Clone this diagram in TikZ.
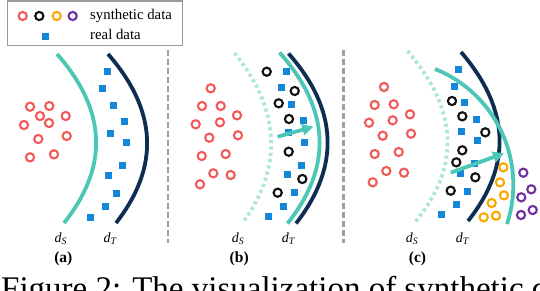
\documentclass[tikz,border=0pt]{standalone}
\usepackage{fontspec}
\setmainfont{Liberation Serif}
\usetikzlibrary{arrows.meta}
\definecolor{synred}{HTML}{F25A5A}
\definecolor{synblack}{HTML}{111111}
\definecolor{synorange}{HTML}{F9A800}
\definecolor{synpurple}{HTML}{7030A0}
\definecolor{realblue}{HTML}{1487D9}
\definecolor{dsteal}{HTML}{4CC6B6}
\definecolor{dsfaint}{HTML}{AEE6DF}
\definecolor{dtnavy}{HTML}{0F2D52}
\tikzset{
  syn/.style={circle,draw=#1,line width=2.1pt,minimum size=8.2pt,inner sep=0pt},
  real/.style={rectangle,fill=realblue,minimum size=7pt,inner sep=0pt},
  dsline/.style={line width=3.8pt,dsteal},
  dsfade/.style={line width=3.8pt,dsfaint,dash pattern=on 3.2pt off 3.2pt},
  dtline/.style={line width=3.8pt,dtnavy},
  moveline/.style={-{Triangle[length=11pt,width=11pt]},line width=3.8pt,dsteal},
  sepline/.style={gray!75,line width=2.4pt,dash pattern=on 6pt off 3pt},
  lbl/.style={font=\fontsize{14.8}{17}\selectfont,anchor=base west,inner sep=0pt},
  dlbl/.style={font=\fontsize{14}{16}\selectfont,anchor=base west,inner sep=0pt},
  panel/.style={font=\fontsize{15.5}{18}\selectfont\bfseries,anchor=base,inner sep=0pt},
}
\newcommand{\dname}[1]{\textit{d}\textsubscript{\textit{#1}}}

\begin{document}
\begin{tikzpicture}[x=1pt,y=-1pt]
  \useasboundingbox (0,0) rectangle (540,290);
  \clip (0,0) rectangle (540,290);
  % legend
  \draw[gray!80,line width=1.1pt] (7.5,1) rectangle (182.5,45.5);
  \node[syn=synred]    (legred)    at (22.7,16) {};
  \node[syn=synblack]  (legblack)  at (39.3,16) {};
  \node[syn=synorange] (legorange) at (56.7,16) {};
  \node[syn=synpurple] (legpurple) at (72.7,16) {};
  \node[real] (legreal) at (45.7,36.7) {};
  \node[lbl] (legsyn) at (90,19) {synthetic data};
  \node[lbl] (legrealtxt) at (90,39) {real data};

  % separators
  \draw[sepline] (167.7,50) -- (167.7,243);
  \draw[sepline] (343.3,50) -- (343.3,243);

  % (a)
  \draw[dsline] (57,54) .. controls (106.7,110.3) and (109,166.7) .. (64,223);
  \draw[dtline] (108,54) .. controls (157.3,110.3) and (160,166.7) .. (116,223);
  \foreach \px/\py [count=\i] in {30/106.7,49.3/106,40/116,65.7/116,24/125,
      49/123,38.3/139,66.7/136,30/157.3,54/154.3}
    \node[syn=synred] (ared\i) at (\px,\py) {};
  \foreach \px/\py [count=\i] in {107.3/71.7,102.7/88.3,113.3/105,124.7/121,
      110.3/133.3,126.3/142.7,122.7/165.7,108.7/175,116/193.3,105/206.7,90/217.3}
    \node[real] (areal\i) at (\px,\py) {};
  \node[dlbl] (adS) at (54.3,242) {\dname{S}};
  \node[dlbl] (adT) at (103.3,242) {\dname{T}};
  \node[panel] (alabel) at (63.3,262) {(a)};

  % (b)
  \draw[dsfade] (234.5,53) .. controls (280.3,109.8) and (283.2,166.3) .. (243,222.5);
  \draw[dtline] (288.5,53.5) .. controls (338,109.5) and (340.5,166.2) .. (296,223.5);
  \draw[dsline] (279.5,52.5) .. controls (330.2,109.5) and (332.8,166.5) .. (287.5,223.5);
  \foreach \px/\py [count=\i] in {210.7/88.3,202/106,220.7/106,237/115.3,195.7/124.3,
      220/122.3,209.3/137.7,238/135.3,201.7/156,225.7/154,213.3/173.3,230.7/175,200/184.3}
    \node[syn=synred] (bred\i) at (\px,\py) {};
  \foreach \px/\py [count=\i] in {286/71,281/87.7,291.7/104.3,303/120.3,288.7/132,
      304.3/142,301.3/165,287.3/174,294.3/192.3,283.7/206.3,268.7/216.7}
    \node[real] (breal\i) at (\px,\py) {};
  \foreach \px/\py [count=\i] in {266.7/71.7,294.7/91,278.7/103.3,289/119,
      288.7/151.7,302.3/179,277.7/192.7}
    \node[syn=synblack] (bblack\i) at (\px,\py) {};
  \coordinate (bfrom) at (277.7,136.7);
  \coordinate (bto) at (313.3,126.7);
  \draw[moveline] (bfrom) -- (bto);
  \node[dlbl] (bdS) at (231.7,242) {\dname{S}};
  \node[dlbl] (bdT) at (281.7,242) {\dname{T}};
  \node[panel] (blabel) at (239.2,262) {(b)};

  % (c)
  \draw[dsfade] (407.5,51) .. controls (458.3,110) and (460.8,167) .. (415,222);
  \draw[dtline] (461,52) .. controls (510,109) and (512.3,165.3) .. (468,221);
  \draw[dsline] (435,69) .. controls (496.3,93.5) and (527.6,161.3) .. (507,224);
  \foreach \px/\py [count=\i] in {384/87,374.7/105,393.7/104.3,410/114.3,369/122.7,
      392.7/120.3,382.7/135.7,411/133.7,374.7/154,398.7/152,386.3/171,404/172.7,372.7/182.3}
    \node[syn=synred] (cred\i) at (\px,\py) {};
  \foreach \px/\py [count=\i] in {458.7/69.7,454.3/86,464.7/102.3,476/119,461.7/131,
      477.7/140.7,474.3/163,460.3/173.7,467.3/191,456.7/204.7,441.3/214.7}
    \node[real] (creal\i) at (\px,\py) {};
  \foreach \px/\py [count=\i] in {452/101,462.3/116.3,485.3/132.3,462.3/150.3,
      456.3/162.3,475.3/177.3,450.7/190.7}
    \node[syn=synblack] (cblack\i) at (\px,\py) {};
  \foreach \px/\py [count=\i] in {503.3/167.3,500/182.3,504/195.3,491.7/203,
      483.7/217.3,496/215.7}
    \node[syn=synorange] (corange\i) at (\px,\py) {};
  \foreach \px/\py [count=\i] in {523.3/172.7,531.3/189.3,521.3/197.3,532.7/210,521/215}
    \node[syn=synpurple] (cpurple\i) at (\px,\py) {};
  \coordinate (cfrom) at (450.7,172.7);
  \coordinate (cto) at (504,153.3);
  \draw[moveline] (cfrom) -- (cto);
  \node[dlbl] (cdS) at (405.7,242) {\dname{S}};
  \node[dlbl] (cdT) at (455.7,242) {\dname{T}};
  \node[panel] (clabel) at (417.5,262) {(c)};

  % caption, cut by the frame
  \node[anchor=base west,inner sep=0pt,font=\fontsize{33}{36}\selectfont]
    (caption) at (1,299) {Figure 2: The visualization of synthetic data and};
\end{tikzpicture}
\end{document}
